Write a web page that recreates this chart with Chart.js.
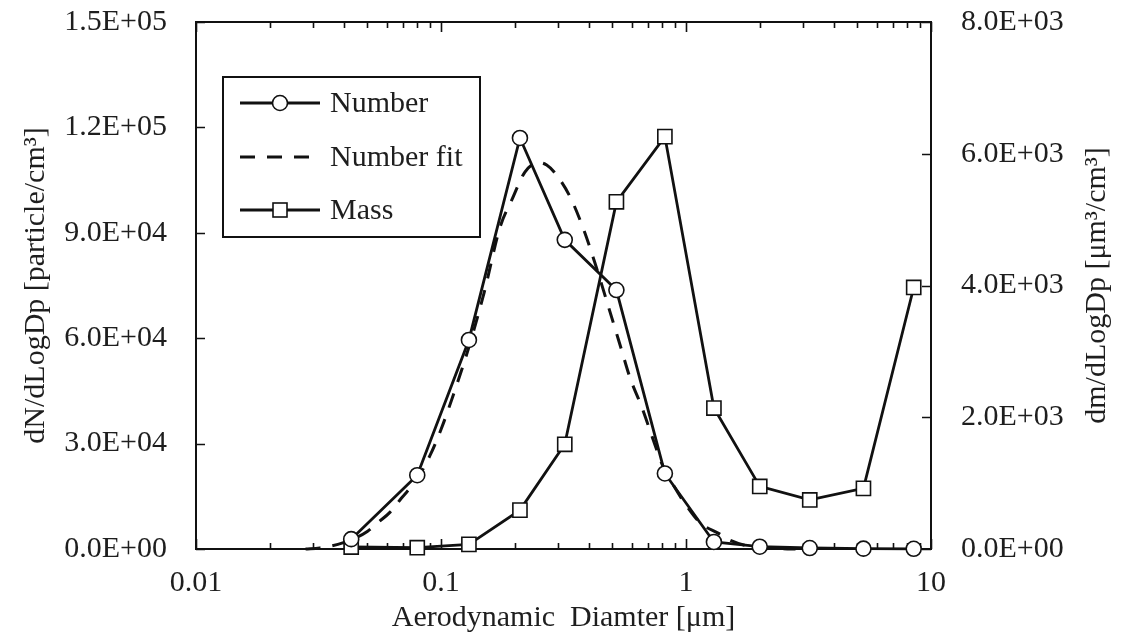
<!DOCTYPE html>
<html>
<head>
<meta charset="utf-8">
<script src="https://cdn.jsdelivr.net/npm/chart.js@4.4.1/dist/chart.umd.min.js"></script>
<style>
html,body{margin:0;padding:0;background:#fff;}
#wrap{width:1136px;height:640px;position:relative;}
</style>
</head>
<body>
<div id="wrap"><canvas id="c" width="1136" height="640"></canvas></div>
<script>
// ---- data ----
const diameters = [0.043, 0.08, 0.13, 0.21, 0.32, 0.52, 0.82, 1.3, 2.0, 3.2, 5.3, 8.5];
const numberValues = [2800, 21000, 59500, 117000, 88000, 73700, 21500, 2000, 650, 280, 100, 50];
const massValues = [30, 20, 70, 590, 1590, 5270, 6260, 2140, 950, 745, 920, 3970];
const fitDiameters = [0.028, 0.032, 0.036, 0.04, 0.045, 0.05, 0.055, 0.062, 0.069, 0.08, 0.09, 0.1, 0.115, 0.13, 0.15, 0.174, 0.195, 0.22, 0.25, 0.27, 0.292, 0.336, 0.38, 0.425, 0.497, 0.546, 0.591, 0.659, 0.724, 0.8, 0.9, 1.0, 1.14, 1.37, 1.5, 1.8, 2.2, 2.8];
const fitValues = [0, 300, 900, 1800, 3200, 5000, 7400, 10500, 14500, 20000, 26500, 34000, 46000, 57500, 73000, 91500, 99500, 107300, 110000, 109300, 107000, 100300, 91400, 81400, 66000, 56600, 48700, 40500, 32400, 24000, 17500, 12500, 7500, 4300, 2600, 800, 150, 0];
const xTickValues = [0.01,0.02,0.03,0.04,0.05,0.06,0.07,0.08,0.09,0.1,0.2,0.3,0.4,0.5,0.6,0.7,0.8,0.9,1,2,3,4,5,6,7,8,9,10];
const xTickLabels = ['0.01', '0.1', '1', '10'];
const leftTickValues = [0, 30000, 60000, 90000, 120000, 150000];
const rightTickValues = [0, 2000, 4000, 6000, 8000];
const seriesLabels = ['Number', 'Number fit', 'Mass'];

const FONT = '"Liberation Serif", "Times New Roman", serif';
const TXT = '#1e1e1e';
Chart.defaults.font.family = FONT;
Chart.defaults.font.size = 30;
Chart.defaults.color = TXT;

function sci(v) {
  if (v === 0) return '0.0E+00';
  const e = Math.floor(Math.log10(Math.abs(v)) + 1e-9);
  const m = v / Math.pow(10, e);
  return m.toFixed(1) + 'E' + (e < 0 ? '-' : '+') + String(Math.abs(e)).padStart(2, '0');
}
function isPow10(v) {
  const l = Math.log10(v);
  return Math.abs(l - Math.round(l)) < 1e-6;
}

const pts = (xs, ys) => xs.map((x, i) => ({x, y: ys[i]}));

const framePlugin = {
  id: 'frame',
  beforeDatasetsDraw(chart) {
    const {ctx, chartArea: a, scales} = chart;
    ctx.save();
    ctx.strokeStyle = '#111';
    ctx.lineWidth = 2;
    ctx.strokeRect(a.left, a.top, a.right - a.left, a.bottom - a.top);
    ctx.lineWidth = 1.6;
    ctx.beginPath();
    xTickValues.forEach(v => {
      const px = Math.round(scales.x.getPixelForValue(v)) + 0.5;
      const len = isPow10(v) ? 10 : 6;
      ctx.moveTo(px, a.bottom); ctx.lineTo(px, a.bottom - len);
      ctx.moveTo(px, a.top); ctx.lineTo(px, a.top + len);
    });
    leftTickValues.forEach(v => {
      const py = Math.round(scales.y.getPixelForValue(v)) + 0.5;
      ctx.moveTo(a.left, py); ctx.lineTo(a.left + 9, py);
    });
    rightTickValues.forEach(v => {
      const py = Math.round(scales.y1.getPixelForValue(v)) + 0.5;
      ctx.moveTo(a.right, py); ctx.lineTo(a.right - 9, py);
    });
    ctx.stroke();
    ctx.restore();
  },
  afterDraw(chart) {
    const {ctx, chartArea: a} = chart;
    ctx.save();
    // right axis title, reading bottom-to-top
    ctx.fillStyle = TXT;
    ctx.font = '30px ' + FONT;
    ctx.textAlign = 'center';
    ctx.textBaseline = 'middle';
    ctx.translate(1097, (a.top + a.bottom) / 2);
    ctx.rotate(-Math.PI / 2);
    ctx.fillText('dm/dLogDp [μm³/cm³]', 0, 0);
    ctx.restore();

    // legend box
    ctx.save();
    const bx = 223, by = 77, bw = 257, bh = 160;
    ctx.fillStyle = '#fff';
    ctx.fillRect(bx, by, bw, bh);
    ctx.strokeStyle = '#111';
    ctx.lineWidth = 2;
    ctx.strokeRect(bx, by, bw, bh);
    const rows = [103, 157, 210];
    const ds = chart.data.datasets;
    const order = [0, 2, 1];
    rows.forEach((ry, i) => {
      const d = ds[order[i]];
      ctx.save();
      ctx.strokeStyle = '#111';
      ctx.lineWidth = 3;
      ctx.setLineDash(d.borderDash || []);
      ctx.beginPath();
      ctx.moveTo(240, ry); ctx.lineTo(320, ry);
      ctx.stroke();
      ctx.setLineDash([]);
      if (d.pointRadius > 0) {
        ctx.fillStyle = '#fff';
        ctx.lineWidth = 1.6;
        if (d.pointStyle === 'rect') {
          ctx.fillRect(273, ry - 7, 14, 14);
          ctx.strokeRect(273, ry - 7, 14, 14);
        } else {
          ctx.beginPath();
          ctx.arc(280, ry, d.pointRadius, 0, Math.PI * 2);
          ctx.fill(); ctx.stroke();
        }
      }
      ctx.restore();
      ctx.fillStyle = TXT;
      ctx.font = '30px ' + FONT;
      ctx.textAlign = 'left';
      ctx.textBaseline = 'middle';
      ctx.fillText(d.label, 330, ry + 1);
    });
    ctx.restore();
  }
};

new Chart(document.getElementById('c'), {
  type: 'line',
  data: {
    datasets: [
      {
        label: seriesLabels[0],
        data: pts(diameters, numberValues),
        yAxisID: 'y',
        borderColor: '#111', borderWidth: 2.8,
        pointStyle: 'circle', pointRadius: 7.5,
        pointBackgroundColor: '#fff', pointBorderColor: '#111', pointBorderWidth: 1.6,
        tension: 0, clip: false
      },
      {
        label: seriesLabels[2],
        data: pts(diameters, massValues),
        yAxisID: 'y1',
        borderColor: '#111', borderWidth: 2.8,
        pointStyle: 'rect', pointRadius: 10,
        pointBackgroundColor: '#fff', pointBorderColor: '#111', pointBorderWidth: 1.6,
        tension: 0, clip: false
      },
      {
        label: seriesLabels[1],
        data: pts(fitDiameters, fitValues),
        yAxisID: 'y',
        borderColor: '#111', borderWidth: 3,
        borderDash: [15, 12],
        pointRadius: 0,
        cubicInterpolationMode: 'monotone',
        clip: false
      }
    ]
  },
  options: {
    responsive: false,
    animation: false,
    layout: {padding: {top: 22, left: 0, right: 0, bottom: 0}},
    plugins: {legend: {display: false}, tooltip: {enabled: false}},
    scales: {
      x: {
        type: 'logarithmic',
        position: 'bottom',
        min: 0.01, max: 10,
        grid: {display: false, drawTicks: false},
        border: {display: false},
        afterBuildTicks: s => { s.ticks = xTickValues.map(v => ({value: v})); },
        ticks: {
          autoSkip: false, maxRotation: 0, minRotation: 0, padding: 16,
          callback: v => isPow10(v) ? xTickLabels[Math.round(Math.log10(v)) + 2] : ''
        },
        title: {display: true, text: 'Aerodynamic  Diamter [μm]', padding: {top: 0, bottom: 4}},
        afterFit: s => { s.height = 91; s.paddingLeft = 0; s.paddingRight = 0; }
      },
      y: {
        position: 'left',
        min: 0, max: 150000,
        grid: {display: false, drawTicks: false},
        border: {display: false},
        afterBuildTicks: s => { s.ticks = leftTickValues.map(v => ({value: v})); },
        ticks: {padding: 29, callback: v => sci(v)},
        title: {display: true, text: 'dN/dLogDp [particle/cm³]', padding: {top: 18, bottom: 0}},
        afterFit: s => { s.width = 196; s.paddingTop = 0; s.paddingBottom = 0; }
      },
      y1: {
        position: 'right',
        min: 0, max: 8000,
        grid: {display: false, drawTicks: false},
        border: {display: false},
        afterBuildTicks: s => { s.ticks = rightTickValues.map(v => ({value: v})); },
        ticks: {padding: 30, callback: v => sci(v)},
        afterFit: s => { s.width = 205; s.paddingTop = 0; s.paddingBottom = 0; }
      }
    }
  },
  plugins: [framePlugin]
});
</script>
</body>
</html>
